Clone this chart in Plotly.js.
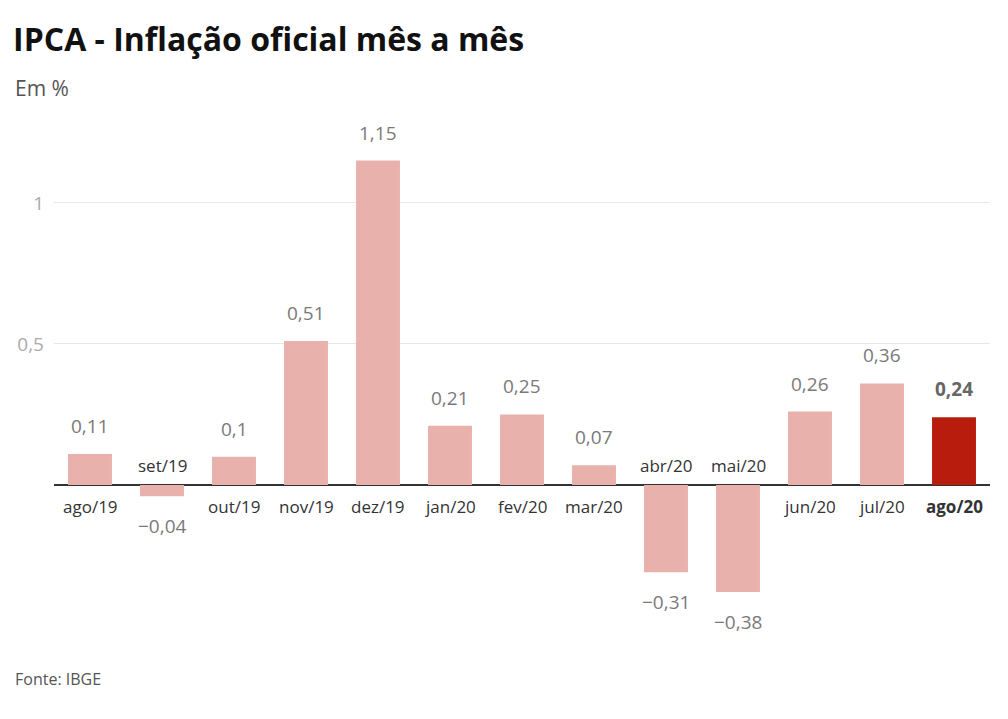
<!DOCTYPE html>
<html>
<head>
<meta charset="utf-8">
<script src="https://cdn.plot.ly/plotly-3.0.1.min.js"></script>
<style>html,body{margin:0;padding:0;background:#fff;}#chart{width:1008px;height:719px;}</style>
</head>
<body>
<div id="chart"></div>
<script>
const categories = ["ago/19","set/19","out/19","nov/19","dez/19","jan/20","fev/20","mar/20","abr/20","mai/20","jun/20","jul/20","ago/20"];
const values = [0.11,-0.04,0.10,0.51,1.15,0.21,0.25,0.07,-0.31,-0.38,0.26,0.36,0.24];
const valueLabels = ["0,11","\u22120,04","0,1","0,51","1,15","0,21","0,25","0,07","\u22120,31","\u22120,38","0,26","0,36","0,24"];
const yTickVals = [0.5, 1];
const yTickText = ["0,5", "1"];

const last = categories.length - 1;
const colors = categories.map((c,i) => i === last ? "#b71c0c" : "#e8b1ab");
const FONT = "Open Sans, Noto Sans, sans-serif";

const annotations = [];
categories.forEach((c,i) => {
  const v = values[i];
  const isLast = i === last;
  annotations.push({
    x: c, y: v, xref: "x", yref: "y", text: isLast ? "<b>"+valueLabels[i]+"</b>" : valueLabels[i],
    showarrow: false, yanchor: "middle", yshift: v >= 0 ? 28 : -30,
    font: {family: FONT, size: 19, color: isLast ? "#666" : "#7a7a7a"}
  });
  annotations.push({
    x: c, y: 0, xref: "x", yref: "y", text: isLast ? "<b>"+c+"</b>" : c,
    showarrow: false, yanchor: "middle", yshift: v >= 0 ? -22 : 19,
    font: {family: FONT, size: 17, color: "#333"}
  });
});
const pxX = (px) => (px - 54) / 936;
const pxY = (py) => (640 - py) / 520;
annotations.push({xref:"paper", yref:"paper", x:pxX(13), y:pxY(679), xanchor:"left", yanchor:"middle", text:"Fonte: IBGE", showarrow:false, font:{family:FONT, size:16, color:"#555"}});
annotations.push({xref:"paper", yref:"paper", x:pxX(13), y:pxY(88), xanchor:"left", yanchor:"middle", text:"Em %", showarrow:false, font:{family:FONT, size:21, color:"#555"}});

const layout = {
  width: 1008, height: 719,
  margin: {l: 54, r: 18, t: 120, b: 79},
  paper_bgcolor: "#fff", plot_bgcolor: "#fff",
  showlegend: false,
  bargap: 0.39,
  separators: ",.",
  title: {text: "<b>IPCA - Inflação oficial mês a mês</b>", x: 0.013, xanchor: "left", y: 0.945, yanchor: "middle",
          font: {family: FONT, size: 32, color: "#111"}},
  xaxis: {type: "category", showticklabels: false, showgrid: false, zeroline: false, showline: false, ticks: "", fixedrange: true},
  yaxis: {range: [-0.55, 1.294], tickvals: yTickVals, ticktext: yTickText, showgrid: true, gridcolor: "#e6e6e6", gridwidth: 1,
          zeroline: true, zerolinecolor: "#333", zerolinewidth: 1.5, showline: false, ticks: "", ticklabelstandoff: 9,
          tickfont: {family: FONT, size: 19, color: "#aaa"}},
  annotations: annotations
};

Plotly.newPlot("chart", [{
  type: "bar", x: categories, y: values, marker: {color: colors}, hoverinfo: "none"
}], layout, {displayModeBar: false, staticPlot: true});
</script>
</body>
</html>
